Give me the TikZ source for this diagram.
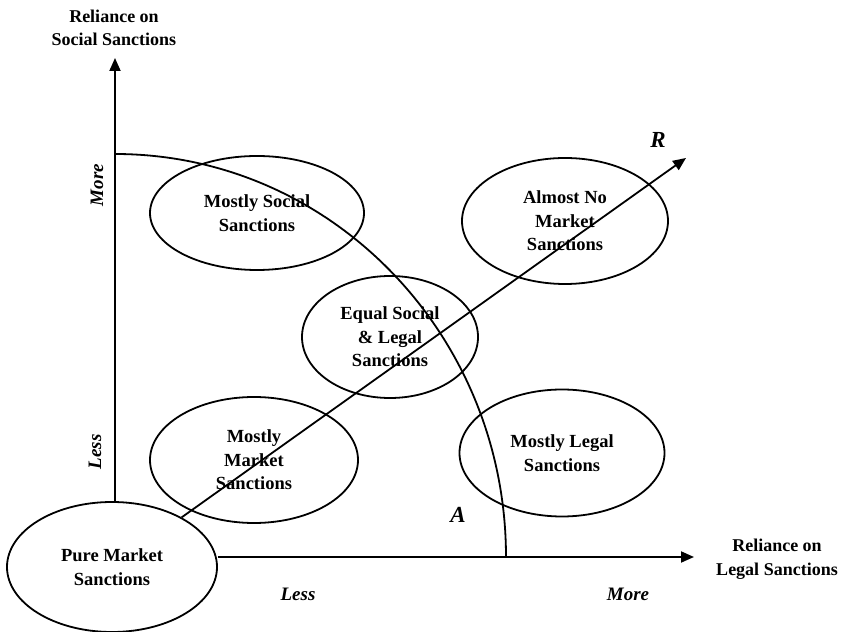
\documentclass[tikz,border=0pt]{standalone}
\usepackage{fontspec}
\setmainfont{Liberation Serif}
\usetikzlibrary{shapes.geometric,arrows.meta}
\begin{document}
\begin{tikzpicture}[x=1pt,y=1pt,
  line width=1.8pt,
  lbl/.style={font=\fontsize{18}{23.5}\selectfont\bfseries, align=center, inner sep=0pt},
  oval/.style={draw, shape=ellipse, inner sep=0pt, align=center, font=\fontsize{18.5}{23.5}\selectfont\bfseries},
  ital/.style={font=\fontsize{19}{22}\selectfont\bfseries\itshape, inner sep=0pt},
  big/.style={font=\fontsize{23}{26}\selectfont\bfseries\itshape, inner sep=0pt},
  arr/.style={-{Triangle[length=13pt,width=11pt]}}]
\useasboundingbox (0,0) rectangle (841,632);
% ellipses
\node[oval, minimum width=210, minimum height=130] (pure) at (112,65) {Pure Market\\Sanctions};
\node[oval, minimum width=214, minimum height=114] (social) at (257,419) {Mostly Social\\Sanctions};
\node[oval, minimum width=206, minimum height=126] (almost) at (565,411) {Almost No\\Market\\Sanctions};
\node[oval, minimum width=176, minimum height=122] (equal) at (390,295) {Equal Social\\\& Legal\\Sanctions};
\node[oval, minimum width=208, minimum height=126] (market) at (254,172) {Mostly\\Market\\Sanctions};
\node[oval, minimum width=205, minimum height=127] (legal) at (562,179) {Mostly Legal\\Sanctions};
% axes
\coordinate (ytip) at (115,574);
\coordinate (xtip) at (694,75);
\draw[arr] (pure.north -| ytip) -- (ytip);
\draw[arr] (pure.east |- xtip) -- (xtip);
% arc A
\coordinate (arcstart) at (115,478);
\draw (arcstart) arc[start angle=90, end angle=0, x radius=391, y radius=403];
% R arrow
\coordinate (rtip) at (686,474);
\draw[arr] (pure) -- (rtip);
% labels
\node[lbl] (ylab) at (114,604) {Reliance on\\Social Sanctions};
\node[lbl] (xlab) at (777,73) {Reliance on\\Legal Sanctions};
\node[big] (R) at (658,492) {R};
\node[big] (A) at (458,117) {A};
\node[ital, rotate=90] (ymore) at (97,447) {More};
\node[ital, rotate=90] (yless) at (95,180) {Less};
\node[ital] (xless) at (298,38) {Less};
\node[ital] (xmore) at (628,38) {More};
\end{tikzpicture}
\end{document}
